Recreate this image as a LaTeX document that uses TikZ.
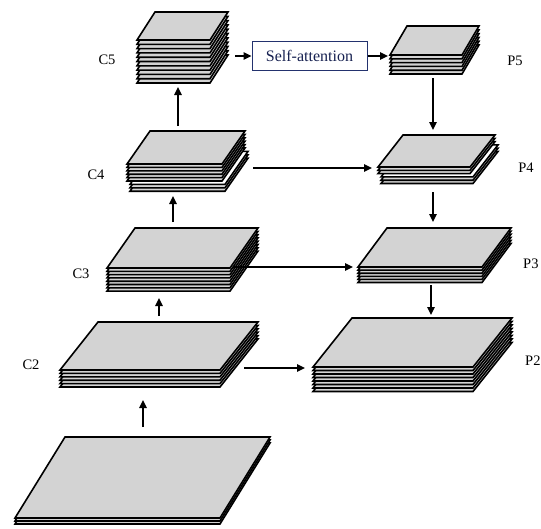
\documentclass[tikz,border=0pt]{standalone}
\usepackage{fontspec}
\setmainfont{Liberation Serif}
\usetikzlibrary{arrows.meta}
\definecolor{sheetgray}{RGB}{211,211,211}
\definecolor{navybox}{RGB}{35,50,110}
\definecolor{navytext}{RGB}{22,32,80}
\tikzset{
  sheet/.style={fill=sheetgray, draw=black, line width=1.6pt, line join=miter},
  arr/.style={draw=black, line width=1.6pt, -{Triangle[length=8pt,width=7.5pt]}},
  lbl/.style={font=\fontsize{14.5}{16}\selectfont, inner sep=0pt},
  sabox/.style={draw=navybox, line width=1pt, minimum width=115pt, minimum height=29pt, inner sep=0pt,
    font=\fontsize{16}{18}\selectfont, text=navytext}
}
% \sheet{x0}{y0}{w}{dx}{dy}{extra style}
\newcommand{\sheet}[6]{\filldraw[sheet,#6] (#1,#2) -- ++(#3,0) -- ++(#4,#5) -- ++(-#3,0) -- cycle;}
% \stackof{x0}{y0}{w}{dx}{dy}{n}{gap}
\newcommand{\stackof}[7]{\foreach \i in {#6,...,0}{\sheet{#1}{#2+\i*#7}{#3}{#4}{#5}{}}}
\begin{document}
\begin{tikzpicture}[x=1pt,y=-1pt]
\useasboundingbox (0,0) rectangle (541,528);
% ---- stacks ----
% input
\stackof{15}{518}{205}{50}{-81}{2}{3}
% C2
\stackof{60}{370}{160}{38}{-48}{5}{3.4}
% C3
\stackof{107}{268}{123}{28}{-40}{7}{3.3}
% C4 (with offset lower group)
\foreach \i in {8,7}{\sheet{130}{164+\i*3.4}{95}{23}{-33}{}}
\sheet{130}{164+6*3.4}{95}{23}{-33}{fill=white}
\foreach \i in {5,...,0}{\sheet{127}{164+\i*3.4}{95}{23}{-33}{}}
% C5
\stackof{137}{40}{73}{18}{-28}{10}{4.3}
% P5
\stackof{390}{55}{72}{17}{-29}{5}{3.8}
% P4 (with offset lower group)
\foreach \i in {5,4}{\sheet{381}{167+\i*3.3}{92}{25}{-32}{}}
\sheet{381}{167+3*3.3}{92}{25}{-32}{fill=white}
\foreach \i in {2,...,0}{\sheet{378}{167+\i*3.3}{92}{25}{-32}{}}
% P3
\stackof{358}{267}{124}{29}{-39}{5}{3.1}
% P2
\stackof{313}{367}{160}{39}{-49}{7}{3.5}

% ---- labels ----
\node[lbl] (lc5) at (107,60) {C5};
\node[lbl] (lc4) at (96,175) {C4};
\node[lbl] (lc3) at (81,274) {C3};
\node[lbl] (lc2) at (31,365) {C2};
\node[lbl] (lp5) at (515,61) {P5};
\node[lbl] (lp4) at (526,168) {P4};
\node[lbl,anchor=west] (lp3) at (523,264) {P3};
\node[lbl,anchor=west] (lp2) at (525,361) {P2};

% ---- self-attention ----
\node[sabox] (sa) at (309.5,56) {Self-attention};

% ---- connector endpoints ----
\coordinate (inTop) at (143,427);
\coordinate (c2Bot) at (143,400);
\coordinate (c2Top) at (159,316);
\coordinate (c3Bot) at (159,298);
\coordinate (c3Top) at (173,222);
\coordinate (c4Bot) at (173,196);
\coordinate (c4Top) at (178,126);
\coordinate (c5Bot) at (178,87);
\coordinate (c5R) at (235,56);
\coordinate (p5L) at (388,56);
\coordinate (p5Bot) at (433,78);
\coordinate (p4Top) at (433,130);
\coordinate (p4Bot) at (433,192);
\coordinate (p3Top) at (433,222);
\coordinate (p3Bot) at (431,285);
\coordinate (p2Top) at (431,315);
\coordinate (c4R) at (253,168);
\coordinate (p4L) at (372,168);
\coordinate (c3R) at (233,267);
\coordinate (p3L) at (353,267);
\coordinate (c2R) at (244,368);
\coordinate (p2L) at (305,368);

% ---- connectors ----
\draw[arr] (inTop) -- (c2Bot);
\draw[arr] (c2Top) -- (c3Bot);
\draw[arr] (c3Top) -- (c4Bot);
\draw[arr] (c4Top) -- (c5Bot);
\draw[arr] (c5R) -- (sa.west);
\draw[arr] (sa.east) -- (p5L);
\draw[arr] (p5Bot) -- (p4Top);
\draw[arr] (p4Bot) -- (p3Top);
\draw[arr] (p3Bot) -- (p2Top);
\draw[arr] (c4R) -- (p4L);
\draw[arr] (c3R) -- (p3L);
\draw[arr] (c2R) -- (p2L);
\end{tikzpicture}
\end{document}
